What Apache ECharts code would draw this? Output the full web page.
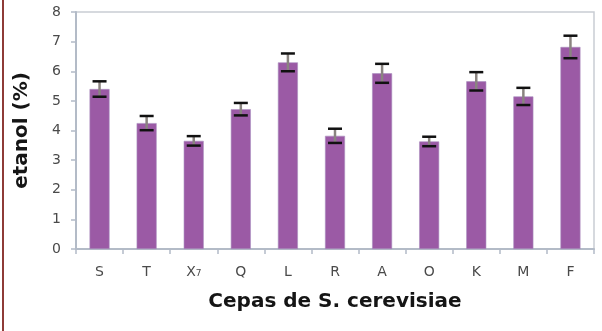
<!DOCTYPE html>
<html>
<head>
<meta charset="utf-8">
<script src="https://cdn.jsdelivr.net/npm/echarts@6/dist/echarts.min.js"></script>
<style>html,body{margin:0;padding:0;background:#fff}#c{width:602px;height:331px}</style>
</head>
<body>
<div id="c"></div>
<script>
const categories = ['S', 'T', 'X\u2087', 'Q', 'L', 'R', 'A', 'O', 'K', 'M', 'F'];
const ethanol = [5.4, 4.25, 3.65, 4.72, 6.3, 3.82, 5.93, 3.63, 5.66, 5.15, 6.82];
const errors = [0.26, 0.24, 0.16, 0.21, 0.3, 0.24, 0.32, 0.16, 0.31, 0.29, 0.38];
const yTicks = [0, 1, 2, 3, 4, 5, 6, 7, 8];

const chart = echarts.init(document.getElementById('c'), null, {renderer: 'canvas'});
const errData = categories.map((c, i) => [i, ethanol[i] - errors[i], ethanol[i] + errors[i]]);

chart.setOption({
  animation: false,
  backgroundColor: '#ffffff',
  grid: {left: 76, right: 8, top: 12, bottom: 82, show: true, borderColor: '#c9cdd3', borderWidth: 1.5},
  graphic: [{type: 'rect', left: 2, top: 0, shape: {width: 2, height: 331}, style: {fill: '#8e3b37'}}],
  xAxis: {
    type: 'category', data: categories,
    name: 'Cepas de S. cerevisiae', nameLocation: 'middle', nameGap: 43,
    nameTextStyle: {fontFamily: 'DejaVu Sans', fontWeight: 'bold', fontSize: 20, color: '#151515'},
    axisLine: {lineStyle: {color: '#b3bbc7', width: 2}},
    axisTick: {show: true, length: 5, lineStyle: {color: '#b3bbc7', width: 1.5}},
    axisLabel: {fontFamily: 'DejaVu Sans', fontSize: 14, color: '#4a4a4a', margin: 16}
  },
  yAxis: {
    type: 'value', min: 0, max: 8, interval: 1,
    name: 'etanol (%)', nameLocation: 'middle', nameGap: 44, nameRotate: 90,
    nameTextStyle: {fontFamily: 'DejaVu Sans', fontWeight: 'bold', fontSize: 20, color: '#151515'},
    axisLine: {show: true, lineStyle: {color: '#b3bbc7', width: 2}},
    axisTick: {show: true, length: 5, lineStyle: {color: '#b3bbc7', width: 1.5}},
    axisLabel: {fontFamily: 'DejaVu Sans', fontSize: 14, color: '#4a4a4a', margin: 15,
      formatter: v => yTicks.includes(v) ? String(v) : ''},
    splitLine: {show: false}
  },
  series: [
    {type: 'bar', data: ethanol, barWidth: 20, itemStyle: {color: '#9b5aa5', borderColor: '#a98fc0', borderWidth: 0.6}},
    {
      type: 'custom', data: errData, z: 5,
      renderItem: function (params, api) {
        const x = api.coord([api.value(0), api.value(1)])[0];
        const lo = api.coord([api.value(0), api.value(1)])[1];
        const hi = api.coord([api.value(0), api.value(2)])[1];
        const hw = 7;
        return {type: 'group', children: [
          {type: 'line', shape: {x1: x, y1: hi, x2: x, y2: lo}, style: {stroke: '#8a8480', lineWidth: 2.5}},
          {type: 'line', shape: {x1: x - hw, y1: hi, x2: x + hw, y2: hi}, style: {stroke: '#111', lineWidth: 2.5}},
          {type: 'line', shape: {x1: x - hw, y1: lo, x2: x + hw, y2: lo}, style: {stroke: '#111', lineWidth: 2.5}}
        ]};
      }
    }
  ]
});
</script>
</body>
</html>
